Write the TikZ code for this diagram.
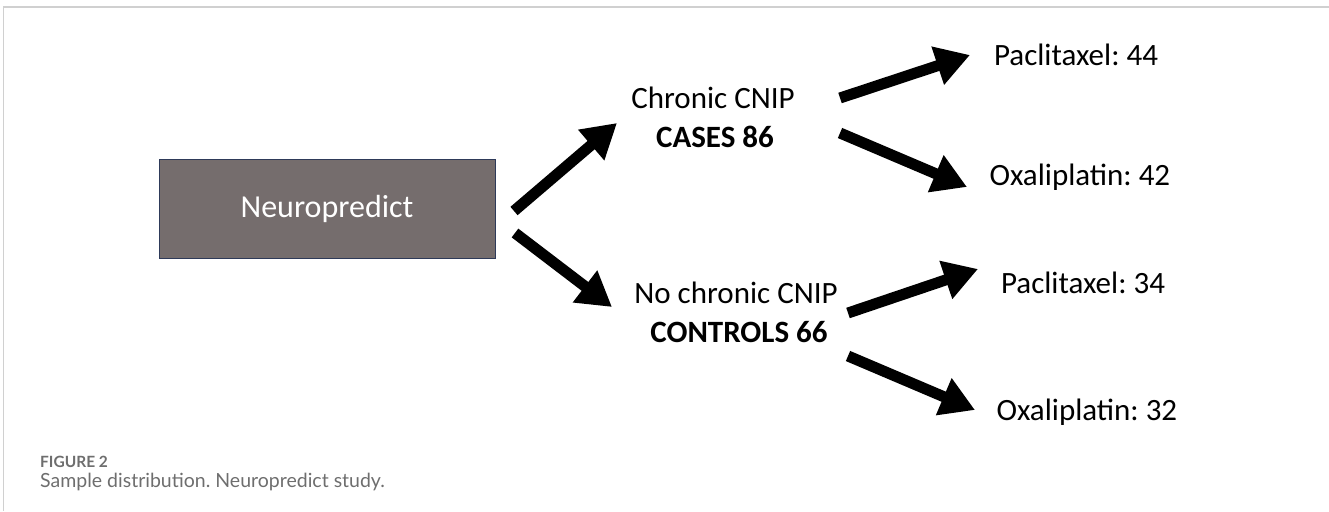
\documentclass[tikz,border=0pt]{standalone}
\usepackage{fontspec}
\setmainfont{Carlito}
\newfontfamily\capfont{Lato}
\usetikzlibrary{arrows.meta}
\definecolor{boxfill}{HTML}{756D6D}
\definecolor{boxline}{HTML}{2E3A59}
\definecolor{rulegray}{HTML}{D0D0D0}
\definecolor{capgray}{HTML}{6E6E6E}
\tikzset{
  bigarrow/.style={line width=11pt, -{Triangle[length=34pt,width=38pt]}},
  lbl/.style={font=\fontsize{31}{36}\selectfont, inner sep=0pt, anchor=base},
  lblb/.style={font=\fontsize{31}{36}\selectfont\bfseries, inner sep=0pt, anchor=base},
}
\frenchspacing
\begin{document}
\begin{tikzpicture}[x=1pt,y=-1pt]
\useasboundingbox (0,0) rectangle (1329,511);
% frame rules
\draw[rulegray, line width=2pt] (3,7) -- (1329,7);
\draw[rulegray, line width=1pt] (3,7) -- (3,511);
% main box
\node[draw=boxline, fill=boxfill, line width=1pt, minimum width=336pt, minimum height=99pt, inner sep=0pt,
      text=white, font=\fontsize{32}{38}\selectfont] (np) at (327,208.5) {Neuropredict};
% labels
\node[lbl]  (chronic)   at (713,108) {Chronic CNIP};
\node[lblb] (cases)     at (715,147) {CASES 86};
\node[lbl]  (nochronic) at (736,303) {No chronic CNIP};
\node[lblb] (controls)  at (739,342) {CONTROLS 66};
\node[lbl]  (pac1) at (1076,65)  {Paclitaxel: 44};
\node[lbl]  (oxa1) at (1080,185) {Oxaliplatin: 42};
\node[lbl]  (pac2) at (1083,293) {Paclitaxel: 34};
\node[lbl]  (oxa2) at (1087,420) {Oxaliplatin: 32};
% arrow end points
\coordinate (t1) at (514,211); \coordinate (h1) at (617,123);
\coordinate (t2) at (515,233); \coordinate (h2) at (612,307);
\coordinate (t3) at (840,98);  \coordinate (h3) at (970,55);
\coordinate (t4) at (840,133); \coordinate (h4) at (967,187);
\coordinate (t5) at (848,313); \coordinate (h5) at (978,269);
\coordinate (t6) at (848,356); \coordinate (h6) at (975,410);
\draw[bigarrow] (t1) -- (h1);
\draw[bigarrow] (t2) -- (h2);
\draw[bigarrow] (t3) -- (h3);
\draw[bigarrow] (t4) -- (h4);
\draw[bigarrow] (t5) -- (h5);
\draw[bigarrow] (t6) -- (h6);
% caption
\node[anchor=base west, inner sep=0pt, text=capgray, font=\capfont\fontsize{15.5}{18}\selectfont\bfseries] (fig) at (40,467) {FIGURE 2};
\node[anchor=base west, inner sep=0pt, text=capgray, font=\capfont\fontsize{19.5}{22}\selectfont] (cap) at (40,487) {Sample distribution. Neuropredict study.};
\end{tikzpicture}
\end{document}
